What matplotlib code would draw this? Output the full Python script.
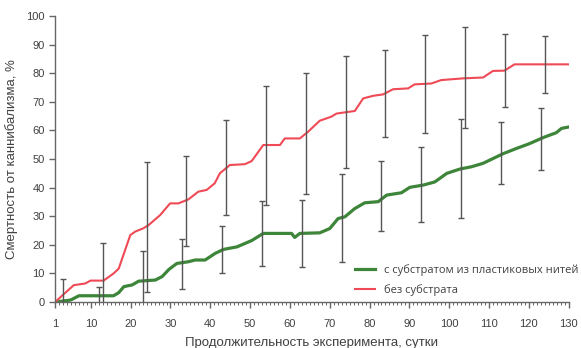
import matplotlib.pyplot as plt
from matplotlib.ticker import MultipleLocator, FixedLocator

plt.rcParams['font.family'] = ['Liberation Sans', 'DejaVu Sans']

# кривая: с субстратом из пластиковых нитей
green_days = [1, 4.9, 7, 15.7, 17, 18.3, 20.4, 22, 26.2, 27.9, 29.6, 31.6, 34.5, 36.2, 38.7,
              41.2, 43.3, 46.7, 50.4, 53.3, 60.4, 61.2, 62.5, 67.5, 70, 72.1, 73.8, 76.3,
              78.8, 82.2, 84.3, 88, 90.1, 93.5, 96.4, 99.4, 102.7, 105.6, 108.5, 113.6,
              116.9, 120.2, 123.6, 126.9, 128.2, 130]
green_vals = [0, 0.7, 2.2, 2.2, 3.3, 5.4, 6.0, 7.3, 7.7, 8.9, 11.4, 13.5, 14.1, 14.7, 14.7,
              17.0, 18.4, 19.3, 21.5, 24.0, 24.0, 22.6, 24.0, 24.2, 25.7, 29.2, 29.8, 32.7,
              34.7, 35.1, 37.4, 38.2, 40.1, 40.9, 42.0, 45.0, 46.5, 47.3, 48.5, 51.9,
              53.7, 55.4, 57.5, 59.2, 60.7, 61.2]

# кривая: без субстрата
red_days = [1, 5.7, 8.6, 9.9, 13.2, 15.7, 17, 19.9, 21.1, 23.2, 24.5, 27.4, 29.9, 32, 34.5,
            37, 39.1, 41.1, 42.4, 44.9, 48.7, 50.4, 53.3, 57.5, 58.7, 62.5, 64.6, 67.5,
            70.4, 71.7, 76.3, 78.4, 80.9, 83.4, 85.9, 89.7, 91.3, 95.5, 98, 103.5, 108.5,
            111, 113.9, 116.4, 130]
red_vals = [0, 5.9, 6.5, 7.5, 7.5, 10.0, 11.7, 23.4, 24.6, 25.8, 26.9, 30.4, 34.5, 34.5, 35.9,
            38.6, 39.2, 41.5, 45.0, 47.9, 48.2, 49.3, 54.9, 54.9, 57.2, 57.2, 59.6, 63.4,
            64.8, 65.9, 66.8, 71.2, 72.1, 72.6, 74.4, 74.7, 76.1, 76.4, 77.6, 78.2, 78.5,
            80.8, 80.9, 83.1, 83.1]

# планки погрешностей
green_err_days = [12, 23, 33, 43, 53, 63, 73, 83, 93, 103, 113, 123]
green_err_mid = [2.2, 7.5, 13.25, 18.25, 24.0, 24.0, 29.5, 37.0, 41.1, 46.7, 52.1, 57.1]
green_err = [2.9, 10.5, 8.75, 8.25, 11.5, 11.7, 15.4, 12.2, 13.0, 17.2, 10.8, 10.9]

red_err_days = [3, 13, 24, 34, 44, 54, 64, 74, 84, 94, 104, 114, 124]
red_err_mid = [2.5, 7.5, 26.25, 35.25, 47.0, 54.75, 59.0, 66.5, 73.0, 76.2, 78.5, 80.9, 83.1]
red_err = [5.4, 13.0, 22.75, 15.75, 16.5, 20.75, 21.2, 19.5, 15.2, 17.2, 17.5, 12.8, 9.9]

x_ticks = [1, 10, 20, 30, 40, 50, 60, 70, 80, 90, 100, 110, 120, 130]

fig = plt.figure(figsize=(5.81, 3.48), dpi=100)
ax = fig.add_axes([0.0947, 0.132, 0.884, 0.822])

ax.errorbar(green_err_days, green_err_mid, yerr=green_err, fmt='none', ecolor='#555555',
            elinewidth=1, capsize=2.5, capthick=1, zorder=3)
ax.errorbar(red_err_days, red_err_mid, yerr=red_err, fmt='none', ecolor='#555555',
            elinewidth=1, capsize=2.5, capthick=1, zorder=3)

ax.plot(green_days, green_vals, color='#3c8539', lw=2.3, zorder=2,
        label='с субстратом из пластиковых нитей', solid_joinstyle='round')
ax.plot(red_days, red_vals, color='#ef4a55', lw=1.5, zorder=2,
        label='без субстрата', solid_joinstyle='round')

ax.set_xlim(1, 130)
ax.set_ylim(0, 100)
ax.xaxis.set_major_locator(FixedLocator(x_ticks))
ax.xaxis.set_minor_locator(MultipleLocator(1))
ax.yaxis.set_major_locator(MultipleLocator(10))

for s in ['top', 'right']:
    ax.spines[s].set_visible(False)
for s in ['left', 'bottom']:
    ax.spines[s].set_color('#666666')
    ax.spines[s].set_linewidth(1)

ax.tick_params(axis='both', which='major', direction='out', length=4, width=1,
               color='#666666', labelsize=8, labelcolor='#404040')
ax.tick_params(axis='x', which='minor', direction='out', length=2.5, width=0.7, color='#666666')
ax.tick_params(axis='x', which='major', pad=8)

ax.set_xlabel('Продолжительность эксперимента, сутки', fontsize=9.5, color='#404040', labelpad=6)
ax.set_ylabel('Смертность от каннибализма, %', fontsize=9.5, color='#404040', labelpad=6)

leg = ax.legend(loc='lower right', bbox_to_anchor=(1.035, -0.005), frameon=False,
                prop={'family': ['Open Sans', 'DejaVu Sans'], 'size': 8},
                handlelength=1.8, handletextpad=0.8, labelspacing=0.7, borderaxespad=0.3)
for t in leg.get_texts():
    t.set_color('#404040')

fig.savefig('out.png', dpi=100, facecolor='white')
